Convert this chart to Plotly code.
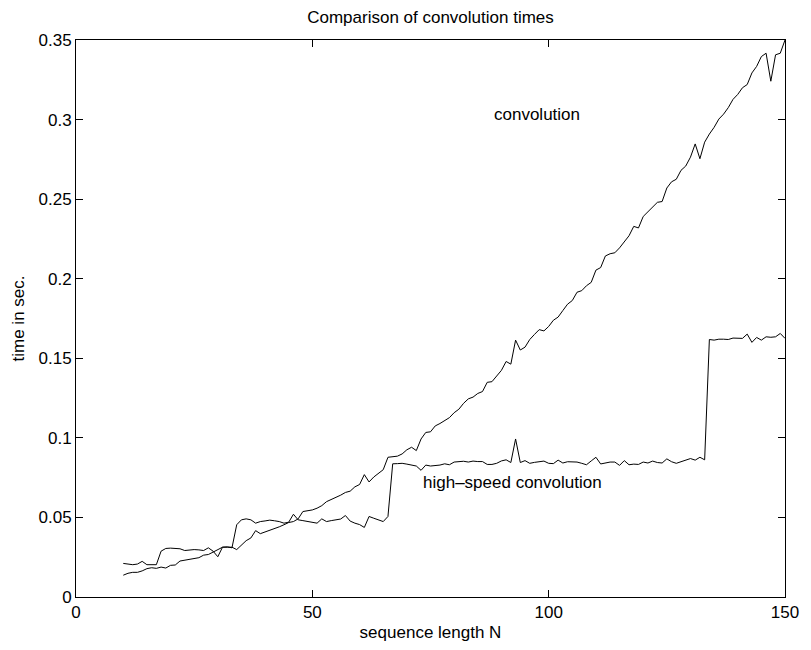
import plotly.graph_objects as go

N = list(range(10, 151))

conv_time = [
    0.0137, 0.0149, 0.0155, 0.0155, 0.0164, 0.0178, 0.0184, 0.0180, 0.0188, 0.0182,  # 10-19
    0.0199, 0.0201, 0.0226, 0.0232, 0.0238, 0.0242, 0.0247, 0.0263, 0.0267, 0.0282,  # 20-29
    0.0298, 0.0313, 0.0313, 0.0313, 0.0298, 0.0325, 0.0354, 0.0371, 0.0417, 0.0398,  # 30-39
    0.0408, 0.0421, 0.0431, 0.0441, 0.0454, 0.0468, 0.0474, 0.0491, 0.0537, 0.0543,  # 40-49
    0.0547, 0.0558, 0.0574, 0.0599, 0.0613, 0.0623, 0.0640, 0.0657, 0.0665, 0.0692,  # 50-59
    0.0707, 0.0769, 0.0723, 0.0754, 0.0780, 0.0800, 0.0878, 0.0880, 0.0885, 0.0899,  # 60-69
    0.0925, 0.0941, 0.0920, 0.0993, 0.1034, 0.1038, 0.1075, 0.1090, 0.1110, 0.1127,  # 70-79
    0.1158, 0.1180, 0.1217, 0.1245, 0.1256, 0.1279, 0.1291, 0.1349, 0.1353, 0.1386,  # 80-89
    0.1424, 0.1480, 0.1463, 0.1614, 0.1552, 0.1570, 0.1618, 0.1650, 0.1680, 0.1672,  # 90-99
    0.1700, 0.1739, 0.1759, 0.1800, 0.1840, 0.1863, 0.1915, 0.1925, 0.1956, 0.1977,  # 100-109
    0.2054, 0.2070, 0.2143, 0.2157, 0.2163, 0.2194, 0.2230, 0.2270, 0.2329, 0.2319,  # 110-119
    0.2391, 0.2420, 0.2450, 0.2480, 0.2485, 0.2570, 0.2609, 0.2625, 0.2681, 0.2708,  # 120-129
    0.2764, 0.2847, 0.2754, 0.2858, 0.2909, 0.2951, 0.3003, 0.3034, 0.3075, 0.3127,  # 130-139
    0.3158, 0.3200, 0.3220, 0.3293, 0.3334, 0.3396, 0.3417, 0.3241, 0.3407, 0.3417,  # 140-149
    0.3500,                                                                          # 150
]

fast_time = [
    0.0211, 0.0205, 0.0203, 0.0207, 0.0224, 0.0203, 0.0205, 0.0203, 0.0288, 0.0305,  # 10-19
    0.0307, 0.0307, 0.0303, 0.0292, 0.0296, 0.0298, 0.0296, 0.0292, 0.0309, 0.0288,  # 20-29
    0.0253, 0.0313, 0.0315, 0.0309, 0.0454, 0.0485, 0.0491, 0.0485, 0.0464, 0.0474,  # 30-39
    0.0478, 0.0483, 0.0479, 0.0474, 0.0464, 0.0470, 0.0520, 0.0485, 0.0480, 0.0474,  # 40-49
    0.0470, 0.0464, 0.0491, 0.0474, 0.0480, 0.0485, 0.0490, 0.0512, 0.0477, 0.0464,  # 50-59
    0.0455, 0.0437, 0.0506, 0.0495, 0.0485, 0.0474, 0.0506, 0.0837, 0.0838, 0.0840,  # 60-69
    0.0835, 0.0831, 0.0823, 0.0796, 0.0829, 0.0823, 0.0826, 0.0829, 0.0837, 0.0831,  # 70-79
    0.0848, 0.0852, 0.0853, 0.0848, 0.0854, 0.0851, 0.0851, 0.0833, 0.0833, 0.0840,  # 80-89
    0.0855, 0.0862, 0.0845, 0.0993, 0.0845, 0.0857, 0.0840, 0.0846, 0.0850, 0.0854,  # 90-99
    0.0840, 0.0838, 0.0860, 0.0842, 0.0850, 0.0848, 0.0848, 0.0840, 0.0831, 0.0855,  # 100-109
    0.0878, 0.0836, 0.0844, 0.0848, 0.0848, 0.0827, 0.0857, 0.0831, 0.0835, 0.0833,  # 110-119
    0.0848, 0.0842, 0.0854, 0.0845, 0.0842, 0.0868, 0.0850, 0.0840, 0.0850, 0.0862,  # 120-129
    0.0870, 0.0860, 0.0878, 0.0862, 0.1618, 0.1614, 0.1620, 0.1620, 0.1618, 0.1627,  # 130-139
    0.1627, 0.1625, 0.1652, 0.1600, 0.1631, 0.1614, 0.1635, 0.1632, 0.1635, 0.1656,  # 140-149
    0.1625,                                                                          # 150
]

x_ticks = [0, 50, 100, 150]
y_ticks = [0, 0.05, 0.1, 0.15, 0.2, 0.25, 0.3, 0.35]
y_tick_labels = ["0", "0.05", "0.1", "0.15", "0.2", "0.25", "0.3", "0.35"]

FONT = "Liberation Sans, Arial, Helvetica, sans-serif"
FS = 17

fig = go.Figure()
fig.add_trace(go.Scatter(x=N, y=conv_time, mode="lines",
                         line=dict(color="black", width=1), showlegend=False))
fig.add_trace(go.Scatter(x=N, y=fast_time, mode="lines",
                         line=dict(color="black", width=1), showlegend=False))

fig.add_annotation(x=88, y=0.303, xref="x", yref="y", text="convolution",
                   showarrow=False, xanchor="left", yanchor="middle",
                   font=dict(family=FONT, size=FS, color="black"))
fig.add_annotation(x=73, y=0.072, xref="x", yref="y", text="high\u2013speed convolution",
                   showarrow=False, xanchor="left", yanchor="middle",
                   font=dict(family=FONT, size=FS, color="black"))

fig.update_layout(
    width=811, height=650,
    margin=dict(l=76, r=21, t=40, b=47),
    paper_bgcolor="white", plot_bgcolor="white",
    font=dict(family=FONT, size=FS, color="black"),
    title=dict(text="Comparison of convolution times", x=0.5, xref="paper",
               y=1 - 17 / 650, yref="container", yanchor="middle",
               font=dict(family=FONT, size=FS, color="black")),
    showlegend=False,
)
fig.update_xaxes(
    range=[0, 150], tickvals=x_ticks, ticks="inside", ticklen=7, tickwidth=1,
    tickcolor="black", showline=True, linecolor="black", linewidth=1,
    mirror="ticks", showgrid=False, zeroline=False,
    title=dict(text="sequence length N", standoff=4, font=dict(family=FONT, size=FS)),
)
fig.update_yaxes(
    range=[0, 0.35], tickvals=y_ticks, ticktext=y_tick_labels, ticks="inside",
    ticklen=7, tickwidth=1, tickcolor="black", showline=True, linecolor="black",
    linewidth=1, mirror="ticks", showgrid=False, zeroline=False,
    title=dict(text="time in sec.", standoff=9, font=dict(family=FONT, size=FS)),
)

fig.write_html("out.html")
